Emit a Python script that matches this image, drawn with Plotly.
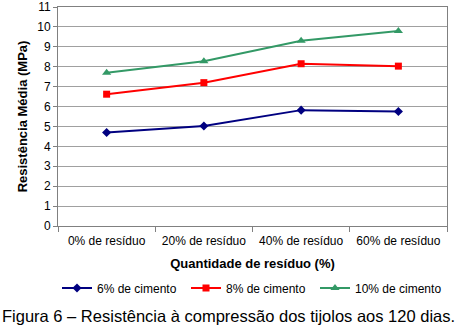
import plotly.graph_objects as go

categories = ["0% de resíduo", "20% de resíduo", "40% de resíduo", "60% de resíduo"]
cim6 = [4.7, 5.02, 5.82, 5.75]
cim8 = [6.62, 7.2, 8.15, 8.03]
cim10 = [7.7, 8.27, 9.3, 9.8]
y_ticks = list(range(0, 12))

font_family = "Liberation Sans, Arial, sans-serif"

fig = go.Figure()
fig.add_trace(go.Scatter(x=categories, y=cim6, name="6% de cimento", mode="lines+markers",
                         line=dict(color="#000080", width=2), marker=dict(symbol="diamond", size=7)))
fig.add_trace(go.Scatter(x=categories, y=cim8, name="8% de cimento", mode="lines+markers",
                         line=dict(color="#FF0000", width=2), marker=dict(symbol="square", size=7)))
fig.add_trace(go.Scatter(x=categories, y=cim10, name="10% de cimento", mode="lines+markers",
                         line=dict(color="#339966", width=2), marker=dict(symbol="triangle-up", size=8)))

L, R, T, B = 58, 10, 7, 105
ph = 331 - T - B
pw = 457 - L - R

def py(pix):
    return (331 - B - pix) / ph

def px(pix):
    return (pix - L) / pw

fig.update_layout(
    width=457, height=331,
    margin=dict(l=L, r=R, t=T, b=B, autoexpand=False),
    paper_bgcolor="white", plot_bgcolor="white",
    font=dict(family=font_family, size=12, color="black"),
    showlegend=True,
    legend=dict(orientation="h", x=px(57), xanchor="left", y=py(288), yanchor="middle",
                font=dict(size=12), traceorder="normal", itemwidth=30,
                entrywidth=84, entrywidthmode="pixels",
                bgcolor="rgba(0,0,0,0)"),
    xaxis=dict(type="category", tickson="boundaries", ticks="outside", ticklen=5,
               tickcolor="#808080", showline=True, linecolor="#808080", mirror=True,
               showgrid=False, range=[-0.5, 3.5], automargin=False,
               ticklabelstandoff=4,
               title=dict(text="<b>Quantidade de resíduo (%)</b>", font=dict(size=13), standoff=11),
               tickfont=dict(size=12)),
    yaxis=dict(range=[0, 11], tickvals=y_ticks, ticks="outside", ticklen=4, tickcolor="#808080",
               showline=True, linecolor="#808080", mirror=True, automargin=False,
               ticklabeloverflow="allow",
               showgrid=True, gridcolor="#a0a0a0", gridwidth=1, zeroline=False,
               title=dict(text="<b>Resistência Média (MPa)</b>", font=dict(size=13), standoff=6),
               tickfont=dict(size=12)),
    annotations=[dict(text="Figura 6 – Resistência à compressão dos tijolos aos 120 dias.",
                      xref="paper", yref="paper", x=px(228), y=py(316), xanchor="center", yanchor="middle",
                      showarrow=False, font=dict(size=16.5, color="black"))],
)
fig.write_html("out.html", config={"displayModeBar": False},
               post_script="document.body.style.margin='0';document.body.style.padding='0';")
